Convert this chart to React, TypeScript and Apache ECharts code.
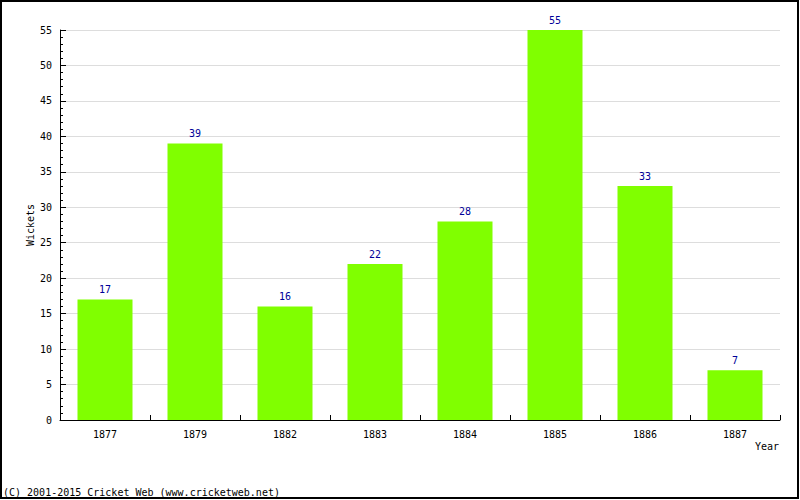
import React, { useEffect, useRef } from "react";
import * as echarts from "echarts";

const categories = ["1877", "1879", "1882", "1883", "1884", "1885", "1886", "1887"];
const wickets = [17, 39, 16, 22, 28, 55, 33, 7];
const yAxisName = "Wickets";
const xAxisName = "Year";
const copyright = "(C) 2001-2015 Cricket Web (www.cricketweb.net)";

const FONT = "'DejaVu Sans Mono', monospace";

export default function App() {
  const ref = useRef<HTMLDivElement>(null);
  useEffect(() => {
    document.body.style.margin = "0";
    const chart = echarts.init(ref.current!, null, { renderer: "svg" });
    chart.setOption({
      animation: false,
      backgroundColor: "#ffffff",
      grid: { left: 60, right: 20, top: 30, bottom: 80 },
      xAxis: {
        type: "category",
        data: categories,
        axisLine: { lineStyle: { color: "#000", width: 1 } },
        axisTick: { show: true, inside: true, length: 5, lineStyle: { color: "#000" } },
        axisLabel: { color: "#000", fontFamily: FONT, fontSize: 10, margin: 9 },
        splitLine: { show: false },
      },
      yAxis: {
        type: "value",
        min: 0,
        max: 55,
        interval: 5,
        axisLine: { show: true, lineStyle: { color: "#000", width: 1 } },
        axisTick: { show: true, inside: true, length: 6, lineStyle: { color: "#000" } },
        minorTick: { show: true, splitNumber: 5, length: 3, lineStyle: { color: "#000" } },
        axisLabel: { color: "#000", fontFamily: FONT, fontSize: 10, margin: 8 },
        splitLine: { show: true, lineStyle: { color: "#dddddd", width: 1 } },
      },
      series: [
        {
          type: "bar",
          data: wickets,
          barWidth: 55,
          itemStyle: { color: "#80ff00" },
          label: {
            show: true,
            position: "top",
            distance: 5,
            color: "#000099",
            fontFamily: FONT,
            fontSize: 10,
          },
        },
      ],
      graphic: [
        {
          type: "rect",
          shape: { x: 1, y: 1, width: 797, height: 497 },
          style: { fill: "none", stroke: "#000", lineWidth: 2 },
          silent: true,
        },
        {
          type: "text",
          x: 30,
          y: 225,
          rotation: Math.PI / 2,
          style: {
            text: yAxisName,
            fill: "#000",
            font: `10px ${FONT}`,
            align: "center",
            verticalAlign: "middle",
          },
        },
        {
          type: "text",
          x: 767,
          y: 446,
          style: {
            text: xAxisName,
            fill: "#000",
            font: `10px ${FONT}`,
            align: "center",
            verticalAlign: "middle",
          },
        },
        {
          type: "text",
          x: 3,
          y: 492,
          style: {
            text: copyright,
            fill: "#000",
            font: `10px ${FONT}`,
            align: "left",
            verticalAlign: "middle",
          },
        },
      ],
    });
    return () => chart.dispose();
  }, []);
  return (
    <div
      ref={ref}
      style={{ position: "absolute", left: 0, top: 0, width: 800, height: 500 }}
    />
  );
}
